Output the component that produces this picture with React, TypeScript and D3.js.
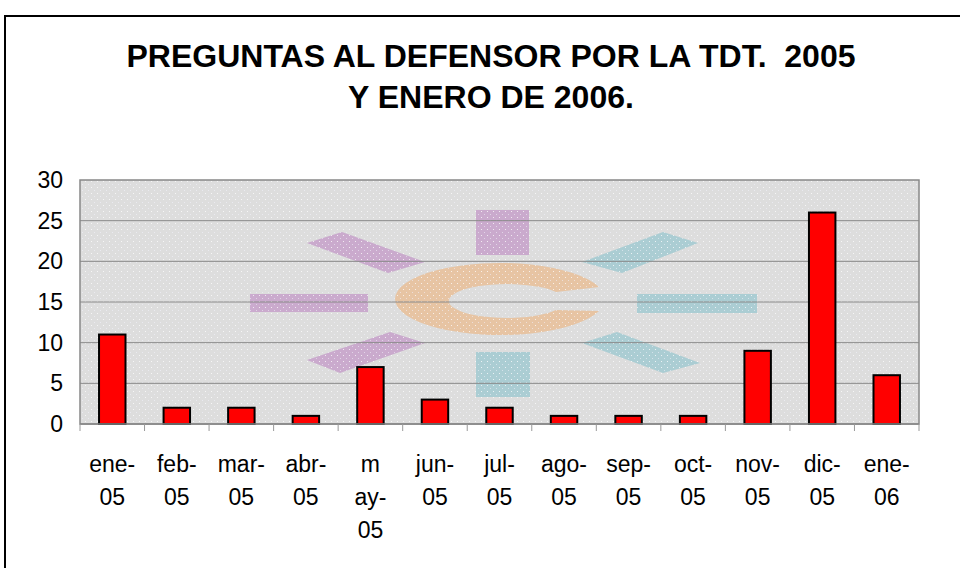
import React from "react";
import * as d3 from "d3";

const categories = ["ene-05", "feb-05", "mar-05", "abr-05", "may-05", "jun-05", "jul-05", "ago-05", "sep-05", "oct-05", "nov-05", "dic-05", "ene-06"];
const labelLines = [["ene-", "05"], ["feb-", "05"], ["mar-", "05"], ["abr-", "05"], ["m", "ay-", "05"], ["jun-", "05"], ["jul-", "05"], ["ago-", "05"], ["sep-", "05"], ["oct-", "05"], ["nov-", "05"], ["dic-", "05"], ["ene-", "06"]];
const values = [11, 2, 2, 1, 7, 3, 2, 1, 1, 1, 9, 26, 6];
const yTicks = [0, 5, 10, 15, 20, 25, 30];
const titleLines = ["PREGUNTAS AL DEFENSOR POR LA TDT.  2005", "Y ENERO DE 2006."];

const W = 960, H = 568;
const plot = { left: 80, right: 919, top: 180, bottom: 424 };
const FONT = "'Liberation Sans', Arial, sans-serif";

export default function App() {
  const x = d3.scaleBand<string>().domain(categories).range([plot.left, plot.right]).paddingInner(0.59).paddingOuter(0.295);
  const xStep = d3.scaleBand<string>().domain(categories).range([plot.left, plot.right]).padding(0);
  const y = d3.scaleLinear().domain([0, 30]).range([plot.bottom, plot.top]);

  const cPath = "M599,287 A105,36 0 1 0 599,311 L556,310 A58,17 0 1 1 556,292 Z";

  return (
    <svg width={W} height={H} style={{ position: "absolute", left: 0, top: 0, background: "#fff" }} fontFamily={FONT}>
      <defs>
        <pattern id="dots" width="6" height="6" patternUnits="userSpaceOnUse">
          <rect x="1" y="1" width="1" height="1" fill="#ffffff" opacity="0.75" />
          <rect x="4" y="4" width="1" height="1" fill="#f4f4ff" opacity="0.55" />
        </pattern>
        <clipPath id="plotclip">
          <rect x={plot.left} y={plot.top} width={plot.right - plot.left} height={plot.bottom - plot.top} />
        </clipPath>
      </defs>
      <rect x={5} y={16} width={W + 20} height={H + 20} fill="#fff" stroke="#000" strokeWidth={2} />

      {titleLines.map((t, i) => (
        <text key={i} x={491} y={67 + i * 41} textAnchor="middle" fontSize={32} fontWeight="bold" fill="#000"
          style={{ whiteSpace: "pre" }}>{t}</text>
      ))}

      <g clipPath="url(#plotclip)">
        <rect x={plot.left} y={plot.top} width={plot.right - plot.left} height={plot.bottom - plot.top} fill="#dddddd" />
        {/* watermark logo */}
        <g opacity={0.95}>
          <path d={cPath} fill="#e8c3a0" />
          <rect x={476} y={210} width={53} height={45} fill="#c9a8cd" />
          <rect x={476} y={352} width={54} height={45} fill="#a9cdd3" />
          <rect x={250} y={294} width={118} height={18} fill="#c9a8cd" />
          <rect x={637} y={294} width={120} height={19} fill="#a9cdd3" />
          <polygon points="307,243 342,232 425,262 388,273" fill="#c9a8cd" />
          <polygon points="307,360 390,332 425,343 340,373" fill="#c9a8cd" />
          <polygon points="582,262 663,232 698,243 622,273" fill="#a9cdd3" />
          <polygon points="582,343 617,332 700,363 663,373" fill="#a9cdd3" />
        </g>
        <rect x={plot.left} y={plot.top} width={plot.right - plot.left} height={plot.bottom - plot.top} fill="url(#dots)" />
      </g>

      {yTicks.filter(t => t > 0 && t < 30).map(t => (
        <line key={t} x1={plot.left} x2={plot.right} y1={y(t)} y2={y(t)} stroke="#8a8a8a" strokeWidth={1} />
      ))}
      <rect x={plot.left} y={plot.top} width={plot.right - plot.left} height={plot.bottom - plot.top} fill="none" stroke="#888" strokeWidth={1.5} />

      {categories.map((c, i) => (
        <rect key={c} x={x(c)!} y={y(values[i])} width={x.bandwidth()} height={plot.bottom - y(values[i])}
          fill="#ff0000" stroke="#000" strokeWidth={2} />
      ))}

      <line x1={plot.left} x2={plot.right} y1={plot.bottom} y2={plot.bottom} stroke="#888" strokeWidth={1.5} />
      {categories.map((c, i) => (
        <line key={"t" + c} x1={xStep(c)!} x2={xStep(c)!} y1={plot.bottom} y2={plot.bottom + 7} stroke="#999" strokeWidth={1} />
      ))}
      <line x1={plot.right} x2={plot.right} y1={plot.bottom} y2={plot.bottom} stroke="#999" strokeWidth={1} />
      <line x1={plot.right} x2={plot.right} y1={plot.bottom} y2={plot.bottom + 7} stroke="#999" strokeWidth={1} />

      {yTicks.map(t => (
        <text key={t} x={63} y={y(t) + 8} textAnchor="end" fontSize={23} fill="#000">{t}</text>
      ))}

      {categories.map((c, i) => (
        <text key={"l" + c} textAnchor="middle" fontSize={23} fill="#000">
          {labelLines[i].map((ln, j) => (
            <tspan key={j} x={xStep(c)! + xStep.bandwidth() / 2} y={472 + j * 33}>{ln}</tspan>
          ))}
        </text>
      ))}
    </svg>
  );
}
